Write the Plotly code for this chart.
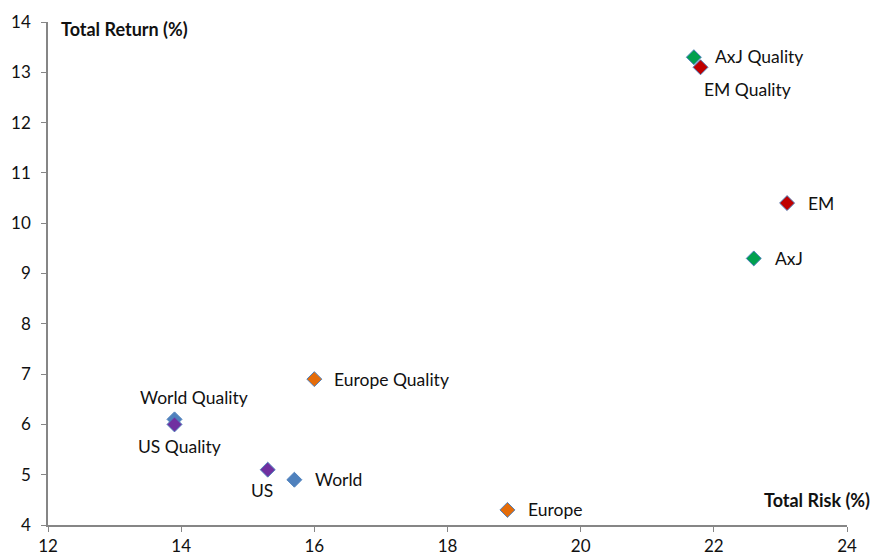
import plotly.graph_objects as go

# Risk / return by index
names = ["AxJ Quality", "EM Quality", "EM", "AxJ", "Europe Quality",
         "World Quality", "US Quality", "US", "World", "Europe"]
risk = [21.7, 21.8, 23.1, 22.6, 16.0, 13.9, 13.9, 15.3, 15.7, 18.9]
ret = [13.3, 13.1, 10.4, 9.3, 6.9, 6.1, 6.0, 5.1, 4.9, 4.3]
colors = ["#00A04F", "#C00000", "#C00000", "#00A04F", "#E46C0A",
          "#4F81BD", "#7030A0", "#7030A0", "#4F81BD", "#E46C0A"]
# label placement: (anchor, x offset px, y offset px)
label_place = [("left", 19, 1), ("left", 1, -22), ("left", 19, 0),
               ("left", 19, 0), ("left", 18, 0), ("center", 19, 22),
               ("center", 5, -22), ("center", -6, -21), ("left", 19, 0),
               ("left", 19, 0)]

x_ticks = [12, 14, 16, 18, 20, 22, 24]
y_ticks = [4, 5, 6, 7, 8, 9, 10, 11, 12, 13, 14]

font_family = "Lato, Open Sans, sans-serif"
text_color = "#111111"

fig = go.Figure()
for n, xv, yv, c in zip(names, risk, ret, colors):
    fig.add_trace(go.Scatter(
        x=[xv], y=[yv], mode="markers",
        marker=dict(symbol="diamond", size=11.5, color=c,
                    line=dict(color="#4F81BD", width=1)),
        showlegend=False, cliponaxis=False, hoverinfo="text", text=[n],
    ))

for n, xv, yv, (anc, dx, dy) in zip(names, risk, ret, label_place):
    fig.add_annotation(x=xv, y=yv, text=n, showarrow=False,
                       xanchor=anc, yanchor="middle", xshift=dx, yshift=dy,
                       font=dict(family=font_family, size=17.5, color=text_color))

axis_common = dict(
    showgrid=False, zeroline=False, showline=True, automargin=False,
    linecolor="#868686", linewidth=1.5,
    ticks="outside", ticklen=5, tickcolor="#868686", tickwidth=1,
    tickfont=dict(family=font_family, size=17, color=text_color),
)

fig.update_xaxes(range=[12, 24], tickvals=x_ticks, ticklabelstandoff=0,
                 **axis_common)
fig.update_yaxes(range=[4, 14], tickvals=y_ticks, ticklabelstandoff=7,
                 **axis_common)

fig.add_annotation(text="<b>Total Return (%)</b>", xref="paper", yref="paper",
                   x=0.0135, y=1.0, xanchor="left", yanchor="middle",
                   yshift=-7, showarrow=False,
                   font=dict(family=font_family, size=18, color=text_color))
fig.add_annotation(text="<b>Total Risk (%)</b>", xref="paper", yref="paper",
                   x=1.031, y=0.0, xanchor="right", yanchor="middle",
                   yshift=25, showarrow=False,
                   font=dict(family=font_family, size=18, color=text_color))

fig.update_layout(
    width=872, height=557,
    margin=dict(l=48, r=25, t=22, b=32, autoexpand=False),
    plot_bgcolor="white", paper_bgcolor="white",
)

fig.write_html("out.html")
